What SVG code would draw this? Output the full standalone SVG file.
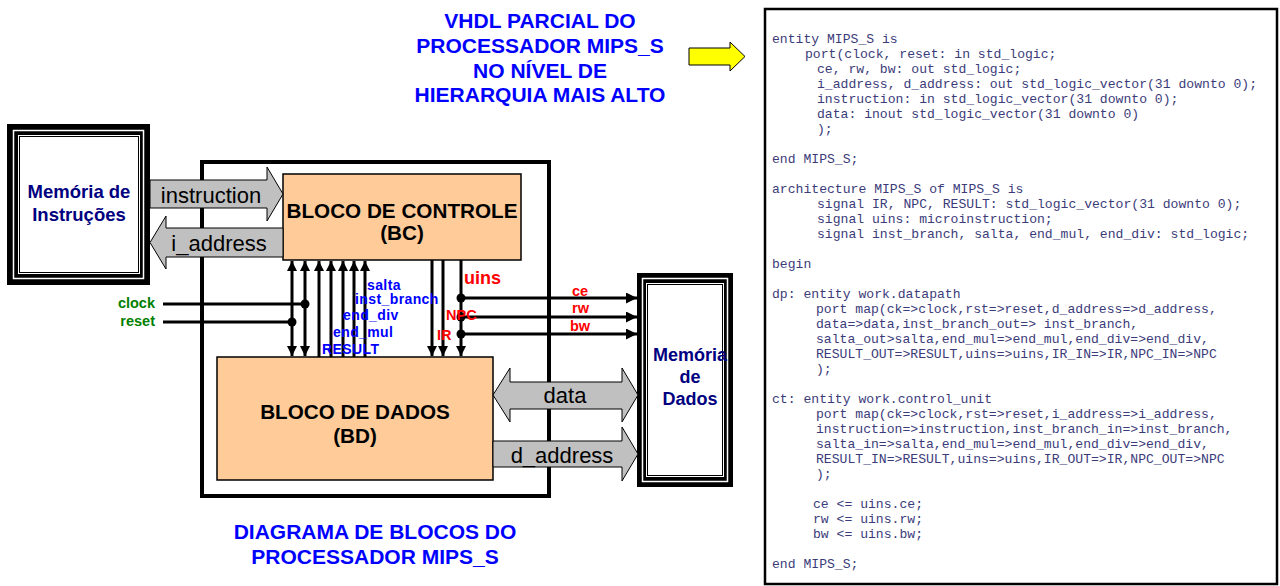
<svg xmlns="http://www.w3.org/2000/svg" width="1280" height="586" viewBox="0 0 1280 586">
<style>
.title{font-family:"Liberation Sans",Arial,sans-serif;font-weight:bold;font-size:21px;fill:#0000ff;text-anchor:middle}
.blk{font-family:"Liberation Sans",Arial,sans-serif;font-weight:bold;font-size:20.7px;fill:#000;text-anchor:middle}
.mem{font-family:"Liberation Sans",Arial,sans-serif;font-weight:bold;font-size:18.5px;fill:#000080;text-anchor:middle}
.bus{font-family:"Liberation Sans",Arial,sans-serif;font-size:22px;fill:#000;text-anchor:middle}
.sigb{font-family:"Liberation Sans",Arial,sans-serif;font-weight:bold;font-size:14px;fill:#0000ff}
.sigr{font-family:"Liberation Sans",Arial,sans-serif;font-weight:bold;font-size:14.5px;fill:#ff0000}
.sigg{font-family:"Liberation Sans",Arial,sans-serif;font-weight:bold;font-size:14.5px;fill:#008000;text-anchor:end}
.code{font-family:"Liberation Mono","Courier New",monospace;font-size:13.1px;fill:#3b3b7a}
.wire{stroke:#000;stroke-width:3;fill:none}
.garrow{fill:#c0c0c0;stroke:#000;stroke-width:1}
.block{fill:#ffcc99;stroke:#000;stroke-width:1.5}
</style>
<defs>
<marker id="ah" markerUnits="userSpaceOnUse" markerWidth="10" markerHeight="10" refX="10" refY="5" orient="auto-start-reverse">
<path d="M0,0 L10,5 L0,10 Z" fill="#000"/>
</marker>
<marker id="ahl" markerUnits="userSpaceOnUse" markerWidth="11" markerHeight="11" refX="11" refY="5.5" orient="auto">
<path d="M0,0 L11,5.5 L0,11 Z" fill="#000"/>
</marker>
</defs>
<rect width="1280" height="586" fill="#fff"/>

<g id="title">
<text class="title" x="540" y="28">VHDL PARCIAL DO</text>
<text class="title" x="540" y="53">PROCESSADOR MIPS_S</text>
<text class="title" x="540" y="78">NO NÍVEL DE</text>
<text class="title" x="540" y="102">HIERARQUIA MAIS ALTO</text>
</g>

<g id="yellow-arrow">
<path d="M689,48 L730,48 L730,42 L745,56.5 L730,71 L730,65 L689,65 Z" fill="#ffff00" stroke="#000" stroke-width="1"/>
</g>

<g id="processor">
<rect x="202" y="162" width="347" height="334" fill="none" stroke="#000" stroke-width="4"/>
</g>

<g id="mem-instr">
<rect x="7" y="124" width="143" height="161" fill="#000"/>
<rect x="13.5" y="130.5" width="130" height="148" fill="none" stroke="#fff" stroke-width="1.5"/>
<rect x="18.5" y="135.5" width="121" height="138" fill="none" stroke="#fff" stroke-width="1"/>
<rect x="20" y="137" width="118" height="135" fill="#fff"/>
<text class="mem" x="79" y="198">Memória de</text>
<text class="mem" x="79" y="221">Instruções</text>
</g>

<g id="mem-dados">
<rect x="637" y="273" width="96" height="214" fill="#000"/>
<rect x="642.5" y="278.5" width="85" height="203" fill="none" stroke="#fff" stroke-width="1.5"/>
<rect x="646.5" y="283.5" width="77" height="193" fill="none" stroke="#fff" stroke-width="1"/>
<rect x="648" y="285" width="74" height="190" fill="#fff"/>
<text class="mem" x="690" y="361" style="font-size:18px">Memória</text>
<text class="mem" x="690" y="383" style="font-size:18px">de</text>
<text class="mem" x="690" y="405" style="font-size:18px">Dados</text>
</g>

<g id="bc">
<rect class="block" x="283" y="174" width="238" height="86"/>
<text class="blk" x="402" y="218">BLOCO DE CONTROLE</text>
<text class="blk" x="402" y="240">(BC)</text>
</g>

<g id="bd">
<rect class="block" x="217" y="357" width="276" height="123"/>
<text class="blk" x="355" y="419">BLOCO DE DADOS</text>
<text class="blk" x="355" y="443">(BD)</text>
</g>

<g id="connectors">
<path class="garrow" d="M150,180 L267,180 L267,167 L283,194 L267,221 L267,208 L150,208 Z"/>
<text class="bus" x="211" y="203">instruction</text>
<path class="garrow" d="M283,228 L166,228 L166,216 L150,242.5 L166,269 L166,257 L283,257 Z"/>
<text class="bus" x="219" y="251">i_address</text>
<path class="garrow" d="M493,395 L510,368 L510,382 L622,382 L622,368 L638,395 L622,422 L622,409 L510,409 L510,422 Z"/>
<text class="bus" x="565" y="403">data</text>
<path class="garrow" d="M493,441 L622,441 L622,427 L638,454 L622,481 L622,467 L493,467 Z"/>
<text class="bus" x="562" y="463">d_address</text>

<line class="wire" x1="292" y1="261" x2="292" y2="356" marker-start="url(#ah)" marker-end="url(#ah)"/>
<line class="wire" x1="305" y1="261" x2="305" y2="356" marker-start="url(#ah)" marker-end="url(#ah)"/>
<line class="wire" x1="319" y1="357" x2="319" y2="261" marker-end="url(#ah)"/>
<line class="wire" x1="331" y1="357" x2="331" y2="261" marker-end="url(#ah)"/>
<line class="wire" x1="343" y1="357" x2="343" y2="261" marker-end="url(#ah)"/>
<line class="wire" x1="354" y1="357" x2="354" y2="261" marker-end="url(#ah)"/>
<line class="wire" x1="365" y1="357" x2="365" y2="261" marker-end="url(#ah)"/>

<line class="wire" x1="163" y1="304" x2="305" y2="304"/>
<line class="wire" x1="163" y1="322" x2="292" y2="322"/>
<circle cx="305" cy="304" r="4.5" fill="#000"/>
<circle cx="292" cy="322" r="4.5" fill="#000"/>

<line class="wire" x1="432" y1="260" x2="432" y2="356" marker-end="url(#ah)"/>
<line class="wire" x1="443" y1="260" x2="443" y2="356" marker-end="url(#ah)"/>
<line class="wire" x1="461" y1="260" x2="461" y2="356" marker-end="url(#ah)"/>

<line class="wire" x1="461" y1="298" x2="637" y2="298" marker-end="url(#ahl)"/>
<line class="wire" x1="461" y1="317" x2="637" y2="317" marker-end="url(#ahl)"/>
<line class="wire" x1="461" y1="334" x2="637" y2="334" marker-end="url(#ahl)"/>
<circle cx="461" cy="298" r="4.5" fill="#000"/>
<circle cx="461" cy="317" r="4.5" fill="#000"/>
<circle cx="461" cy="334" r="4.5" fill="#000"/>
</g>

<g id="signal-labels">
<text class="sigg" x="155" y="308">clock</text>
<text class="sigg" x="155" y="326">reset</text>
<text class="sigb" x="367" y="290" style="letter-spacing:0.4px">salta</text>
<text class="sigb" x="355" y="304" style="letter-spacing:0.4px">inst_branch</text>
<text class="sigb" x="343" y="320" style="letter-spacing:0.4px">end_div</text>
<text class="sigb" x="333" y="337" style="letter-spacing:0.4px">end_mul</text>
<text class="sigb" x="322" y="354" style="letter-spacing:0.4px">RESULT</text>
<text class="sigr" x="464" y="284" style="font-size:18px">uins</text>
<text class="sigr" x="446" y="320">NPC</text>
<text class="sigr" x="437" y="340">IR</text>
<text class="sigr" x="572" y="296">ce</text>
<text class="sigr" x="572" y="313">rw</text>
<text class="sigr" x="570" y="331">bw</text>
</g>

<g id="caption">
<text class="title" x="375" y="539">DIAGRAMA DE BLOCOS DO</text>
<text class="title" x="375" y="564">PROCESSADOR MIPS_S</text>
</g>

<g id="code-panel">
<rect x="765" y="9" width="512" height="575" fill="#fff" stroke="#000" stroke-width="2.5"/>
<text class="code" x="772" y="43">entity MIPS_S is</text>
<text class="code" x="805" y="58">port(clock, reset: in std_logic;</text>
<text class="code" x="817" y="73">ce, rw, bw: out std_logic;</text>
<text class="code" x="817" y="88">i_address, d_address: out std_logic_vector(31 downto 0);</text>
<text class="code" x="817" y="103">instruction: in std_logic_vector(31 downto 0);</text>
<text class="code" x="817" y="118">data: inout std_logic_vector(31 downto 0)</text>
<text class="code" x="817" y="133">);</text>
<text class="code" x="772" y="163">end MIPS_S;</text>
<text class="code" x="772" y="193">architecture MIPS_S of MIPS_S is</text>
<text class="code" x="817" y="208">signal IR, NPC, RESULT: std_logic_vector(31 downto 0);</text>
<text class="code" x="817" y="223">signal uins: microinstruction;</text>
<text class="code" x="817" y="238">signal inst_branch, salta, end_mul, end_div: std_logic;</text>
<text class="code" x="772" y="268">begin</text>
<text class="code" x="772" y="298">dp: entity work.datapath</text>
<text class="code" x="816" y="313">port map(ck=&gt;clock,rst=&gt;reset,d_address=&gt;d_address,</text>
<text class="code" x="816" y="328">data=&gt;data,inst_branch_out=&gt; inst_branch,</text>
<text class="code" x="816" y="343">salta_out&gt;salta,end_mul=&gt;end_mul,end_div=&gt;end_div,</text>
<text class="code" x="816" y="358">RESULT_OUT=&gt;RESULT,uins=&gt;uins,IR_IN=&gt;IR,NPC_IN=&gt;NPC</text>
<text class="code" x="816" y="373">);</text>
<text class="code" x="772" y="403">ct: entity work.control_unit</text>
<text class="code" x="816" y="418">port map(ck=&gt;clock,rst=&gt;reset,i_address=&gt;i_address,</text>
<text class="code" x="816" y="433">instruction=&gt;instruction,inst_branch_in=&gt;inst_branch,</text>
<text class="code" x="816" y="448">salta_in=&gt;salta,end_mul=&gt;end_mul,end_div=&gt;end_div,</text>
<text class="code" x="816" y="463">RESULT_IN=&gt;RESULT,uins=&gt;uins,IR_OUT=&gt;IR,NPC_OUT=&gt;NPC</text>
<text class="code" x="816" y="478">);</text>
<text class="code" x="813" y="508">ce &lt;= uins.ce;</text>
<text class="code" x="813" y="523">rw &lt;= uins.rw;</text>
<text class="code" x="813" y="538">bw &lt;= uins.bw;</text>
<text class="code" x="772" y="568">end MIPS_S;</text>
</g>
</svg>
